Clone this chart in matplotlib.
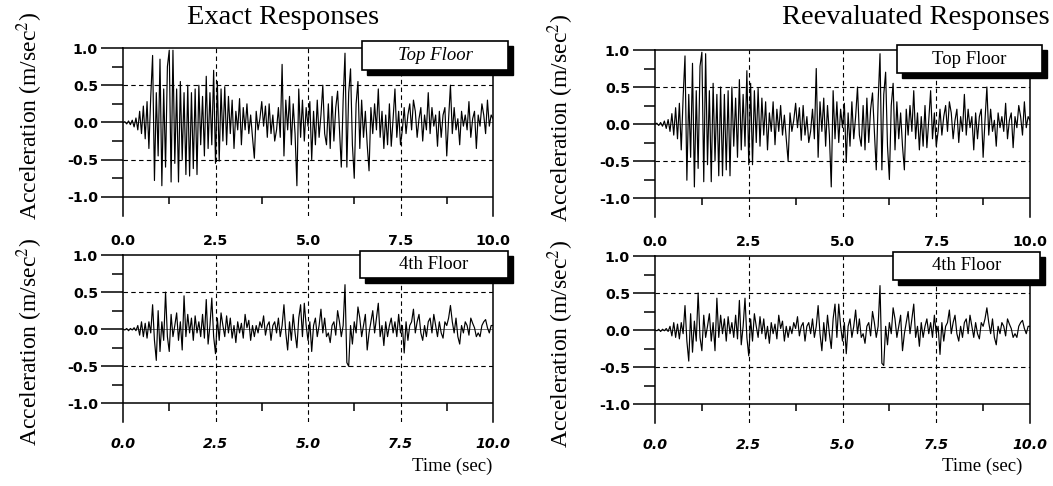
import numpy as np
import matplotlib.pyplot as plt
from matplotlib.patches import Rectangle

# acceleration samples (m/sec^2), every 0.05 sec from 0 to 10 sec
time_step = 0.05

top_exact = [
    0.00, 0.01, -0.02, 0.02, -0.03, 0.03, -0.06, 0.06, -0.10, 0.15, -0.15, 0.22, -0.22, 0.28, -0.35, 0.35, 0.90, -0.78, 0.40, -0.45,
    0.85, -0.85, 0.45, -0.60, 0.75, 0.97, -0.80, 0.97, -0.55, 0.45, -0.80, 0.55, -0.50, 0.40, -0.70, 0.50, -0.72, 0.40, -0.62, 0.45,
    -0.70, 0.50, -0.30, 0.35, -0.45, 0.62, -0.35, 0.40, -0.30, 0.70, -0.55, 0.55, -0.52, 0.45, -0.25, 0.48, -0.30, 0.35, -0.15, 0.30,
    -0.35, 0.15, -0.10, 0.32, -0.30, 0.20, -0.10, 0.25, -0.15, 0.10, -0.20, -0.48, 0.15, -0.10, 0.05, 0.28, -0.05, 0.22, -0.20, 0.25,
    -0.15, 0.10, -0.25, -0.10, 0.20, -0.20, 0.78, -0.45, 0.30, -0.10, 0.35, -0.30, 0.25, -0.15, -0.85, 0.45, -0.20, 0.30, -0.25, 0.20,
    -0.05, 0.28, -0.50, 0.15, -0.30, 0.30, -0.20, 0.10, 0.50, -0.15, -0.30, 0.25, -0.35, 0.35, -0.25, 0.20, 0.42, -0.10, -0.60, 0.30,
    0.93, -0.60, 0.40, 0.72, -0.30, -0.75, 0.25, 0.55, -0.35, 0.30, -0.20, 0.15, -0.30, -0.65, 0.20, -0.15, 0.25, -0.10, 0.45, -0.20,
    0.15, -0.35, 0.10, -0.30, 0.25, -0.32, 0.05, 0.45, -0.20, 0.15, -0.30, -0.10, 0.20, -0.15, 0.10, 0.25, -0.10, 0.30, 0.15, -0.20,
    0.05, 0.20, -0.25, 0.10, -0.10, 0.40, -0.15, 0.20, -0.05, 0.10, -0.32, 0.15, -0.20, 0.10, 0.20, -0.45, 0.05, 0.50, -0.15, 0.20,
    -0.10, 0.05, -0.30, 0.15, -0.05, 0.10, -0.10, 0.28, -0.20, 0.05, 0.15, -0.35, 0.10, -0.05, 0.25, 0.10, -0.15, 0.30, -0.05, 0.10,
    0.05,
]

top_reeval = [
    0.00, 0.01, -0.02, 0.02, -0.03, 0.04, -0.06, 0.06, -0.10, 0.14, -0.15, 0.22, -0.20, 0.28, -0.35, 0.36, 0.92, -0.76, 0.40, -0.45,
    0.82, -0.85, 0.45, -0.60, 0.78, 0.97, -0.78, 0.95, -0.55, 0.45, -0.78, 0.55, -0.50, 0.40, -0.70, 0.50, -0.70, 0.40, -0.62, 0.45,
    -0.70, 0.50, -0.30, 0.35, -0.45, 0.60, -0.35, 0.40, -0.30, 0.72, -0.55, 0.55, -0.55, 0.45, -0.25, 0.48, -0.30, 0.35, -0.15, 0.30,
    -0.35, 0.15, -0.10, 0.30, -0.28, 0.20, -0.10, 0.25, -0.15, 0.12, -0.20, -0.50, 0.15, -0.10, 0.05, 0.28, -0.05, 0.22, -0.22, 0.25,
    -0.15, 0.10, -0.25, -0.10, 0.20, -0.20, 0.75, -0.45, 0.30, -0.10, 0.35, -0.30, 0.25, -0.15, -0.85, 0.45, -0.20, 0.30, -0.25, 0.20,
    -0.05, 0.28, -0.52, 0.15, -0.30, 0.30, -0.20, 0.10, 0.50, -0.15, -0.30, 0.25, -0.35, 0.35, -0.25, 0.20, 0.42, -0.10, -0.62, 0.30,
    0.95, -0.62, 0.40, 0.70, -0.30, -0.75, 0.25, 0.55, -0.35, 0.30, -0.20, 0.15, -0.30, -0.62, 0.20, -0.15, 0.25, -0.10, 0.45, -0.20,
    0.15, -0.35, 0.10, -0.30, 0.25, -0.32, 0.05, 0.45, -0.20, 0.15, -0.30, -0.10, 0.20, -0.15, 0.10, 0.25, -0.10, 0.30, 0.15, -0.20,
    0.05, 0.20, -0.25, 0.10, -0.10, 0.40, -0.15, 0.20, -0.05, 0.10, -0.35, 0.15, -0.20, 0.10, 0.20, -0.45, 0.05, 0.50, -0.15, 0.20,
    -0.10, 0.05, -0.30, 0.15, -0.05, 0.10, -0.10, 0.28, -0.20, 0.05, 0.15, -0.32, 0.10, -0.05, 0.25, 0.10, -0.15, 0.30, -0.05, 0.10,
    0.05,
]

fourth_exact = [
    0.00, -0.01, 0.01, -0.02, 0.01, -0.01, 0.02, -0.02, 0.05, -0.08, 0.10, -0.10, 0.08, -0.12, 0.10, -0.05, 0.33, -0.15, -0.42, 0.25,
    -0.30, 0.10, -0.15, 0.50, -0.10, -0.30, 0.20, -0.10, 0.05, 0.22, -0.15, 0.10, -0.28, 0.45, -0.10, 0.20, -0.05, 0.15, -0.15, 0.18,
    -0.05, 0.10, -0.10, 0.20, -0.12, 0.40, -0.20, 0.05, 0.42, -0.10, -0.33, 0.15, -0.15, 0.22, 0.05, -0.10, 0.18, -0.05, 0.15, -0.12,
    0.05, -0.18, 0.10, -0.05, 0.08, -0.12, 0.20, 0.02, 0.12, -0.15, 0.05, -0.10, 0.05, -0.05, 0.10, 0.02, 0.18, -0.08, 0.05, 0.10,
    -0.15, 0.05, 0.10, -0.05, 0.15, -0.10, 0.05, 0.33, -0.05, -0.28, 0.10, -0.15, 0.20, -0.05, -0.25, 0.15, 0.33, -0.10, 0.35, 0.05,
    -0.15, 0.10, -0.30, 0.05, 0.15, -0.10, 0.05, 0.27, -0.05, 0.15, -0.10, -0.05, -0.18, 0.05, 0.10, -0.08, 0.25, 0.10, -0.10, 0.05,
    0.60, -0.45, -0.50, 0.05, -0.20, 0.10, -0.05, 0.30, 0.15, -0.10, 0.05, 0.20, -0.28, -0.05, 0.10, 0.25, -0.05, 0.15, 0.35, -0.10,
    0.05, -0.22, 0.10, -0.10, 0.05, 0.15, -0.05, 0.10, -0.10, 0.20, -0.05, 0.05, -0.32, 0.10, -0.15, 0.05, 0.10, 0.27, -0.05, 0.10,
    0.20, -0.05, -0.15, 0.05, -0.10, 0.10, 0.15, -0.05, 0.20, 0.05, -0.10, 0.10, -0.05, -0.12, 0.10, 0.05, 0.15, 0.32, 0.10, -0.05,
    0.15, -0.10, -0.20, 0.05, -0.05, 0.10, 0.05, -0.08, 0.15, 0.08, 0.02, -0.10, -0.05, -0.10, 0.05, 0.10, 0.13, 0.02, -0.05, 0.05,
    0.05,
]

fourth_reeval = [
    0.00, -0.01, 0.01, -0.02, 0.01, -0.01, 0.02, -0.02, 0.05, -0.08, 0.10, -0.10, 0.08, -0.12, 0.10, -0.05, 0.33, -0.15, -0.42, 0.22,
    -0.30, 0.12, -0.15, 0.50, -0.10, -0.28, 0.20, -0.10, 0.05, 0.22, -0.15, 0.10, -0.28, 0.43, -0.10, 0.20, -0.05, 0.15, -0.15, 0.18,
    -0.05, 0.10, -0.10, 0.20, -0.12, 0.40, -0.20, 0.05, 0.43, -0.10, -0.35, 0.15, -0.15, 0.22, 0.05, -0.10, 0.18, -0.05, 0.15, -0.12,
    0.05, -0.18, 0.10, -0.05, 0.08, -0.12, 0.20, 0.02, 0.12, -0.15, 0.05, -0.10, 0.05, -0.05, 0.10, 0.02, 0.18, -0.08, 0.05, 0.10,
    -0.15, 0.05, 0.10, -0.05, 0.15, -0.10, 0.05, 0.33, -0.05, -0.28, 0.10, -0.15, 0.20, -0.05, -0.25, 0.15, 0.35, -0.10, 0.35, 0.05,
    -0.15, 0.10, -0.32, 0.05, 0.15, -0.10, 0.05, 0.27, -0.05, 0.15, -0.10, -0.05, -0.18, 0.05, 0.10, -0.08, 0.25, 0.10, -0.10, 0.05,
    0.60, -0.45, -0.48, 0.05, -0.20, 0.10, -0.05, 0.30, 0.15, -0.10, 0.05, 0.20, -0.28, -0.05, 0.10, 0.25, -0.05, 0.15, 0.35, -0.10,
    0.05, -0.22, 0.10, -0.10, 0.05, 0.15, -0.05, 0.10, -0.10, 0.20, -0.05, 0.05, -0.33, 0.10, -0.15, 0.05, 0.10, 0.27, -0.05, 0.10,
    0.20, -0.05, -0.15, 0.05, -0.10, 0.10, 0.15, -0.05, 0.20, 0.05, -0.10, 0.10, -0.05, -0.12, 0.10, 0.05, 0.15, 0.30, 0.10, -0.05,
    0.15, -0.10, -0.20, 0.05, -0.05, 0.10, 0.05, -0.08, 0.15, 0.08, 0.02, -0.10, -0.05, -0.10, 0.05, 0.10, 0.13, 0.02, -0.05, 0.05,
    0.05,
]

x_major = [0.0, 2.5, 5.0, 7.5, 10.0]
x_minor = [1.25, 3.75, 6.25, 8.75]
y_major = [-1.0, -0.5, 0.0, 0.5, 1.0]
y_minor = [-0.75, -0.25, 0.25, 0.75]

W, H = 1053, 486
serif = 'Liberation Serif'
tick_font = dict(family='DejaVu Sans', weight='bold', size=10.2)


def px_axes(left, top, right, bottom):
    return [left / W, 1 - bottom / H, (right - left) / W, (bottom - top) / H]


def style_axes(ax, bottom_row):
    ax.set_xlim(0, 10)
    ax.set_ylim(-1.25, 1.0)
    ax.spines['bottom'].set_visible(False)
    for s in ('top', 'left', 'right'):
        ax.spines[s].set_linewidth(1.1)

    dash = (0, (4, 3))
    for y in (0.5, -0.5):
        ax.axhline(y, color='black', lw=0.8, ls=dash, zorder=1)
    ax.axhline(0.0, color='0.45', lw=0.7, zorder=1)
    ax.axhline(-1.0, color='black', lw=1.1, zorder=1)
    for x in (2.5, 5.0, 7.5):
        ax.axvline(x, color='black', lw=0.8, ls=dash, zorder=1)
    ax.vlines(x_minor, -1.1, -1.0, color='black', lw=1.1)

    ax.set_yticks(y_major)
    ax.set_yticklabels(['%.1f' % v for v in y_major], fontdict=tick_font)
    ax.set_yticks(y_minor, minor=True)
    ax.tick_params(axis='y', which='major', length=16, width=1.1, pad=2)
    ax.tick_params(axis='y', which='minor', length=8, width=1.1)

    ax.set_xticks(x_major)
    style = 'italic' if bottom_row else 'normal'
    ax.set_xticklabels(['%.1f' % v for v in x_major], fontdict=tick_font, fontstyle=style)
    ax.tick_params(axis='x', which='both', length=0, pad=13 if not bottom_row else 11)


def label_box(fig, left, top, right, bottom, text, italic):
    off = 5
    shadow = Rectangle(((left + off) / W, 1 - (bottom + off) / H), (right - left) / W, (bottom - top) / H,
                       transform=fig.transFigure, facecolor='black', edgecolor='black', zorder=5)
    box = Rectangle((left / W, 1 - bottom / H), (right - left) / W, (bottom - top) / H,
                    transform=fig.transFigure, facecolor='white', edgecolor='black', lw=1.2, zorder=6)
    fig.add_artist(shadow)
    fig.add_artist(box)
    fig.text((left + right) / 2 / W, 1 - (top + bottom) / 2 / H, text, ha='center', va='center',
             family=serif, size=13.5, style='italic' if italic else 'normal', zorder=7)


fig = plt.figure(figsize=(W / 100, H / 100), dpi=100)

panels = [
    (px_axes(123, 48, 493, 215.5), top_exact, False),
    (px_axes(655, 50, 1030, 216.5), top_reeval, False),
    (px_axes(123, 255, 493, 422), fourth_exact, True),
    (px_axes(655, 256, 1030, 422.5), fourth_reeval, True),
]

for rect, values, bottom_row in panels:
    ax = fig.add_axes(rect)
    t = np.linspace(0, 10, len(values))
    ax.plot(t, values, color='black', lw=0.85, zorder=3)
    style_axes(ax, bottom_row)

# titles
fig.text(283 / W, 1 - 17 / H, 'Exact Responses', ha='center', va='center', family=serif, size=20.5)
fig.text(1050 / W, 1 - 17 / H, 'Reevaluated Responses', ha='right', va='center', family=serif, size=20.5)

# y labels
ylab = 'Acceleration (m/sec$^{2}$)'
for xc, yc in [(30, 116), (561, 118), (30, 342), (561, 344)]:
    fig.text(xc / W, 1 - yc / H, ylab, rotation=90, ha='center', va='center', family=serif, size=17,
             math_fontfamily='stix')

# time labels
for xc in (452, 982):
    fig.text(xc / W, 1 - 466 / H, 'Time (sec)', ha='center', va='center', family=serif, size=13.5)

label_box(fig, 362, 41, 508, 70, 'Top Floor', True)
label_box(fig, 897, 45, 1042, 73, 'Top Floor', False)
label_box(fig, 360, 251, 508, 278, '4th Floor', False)
label_box(fig, 893, 252, 1040, 280, '4th Floor', False)

fig.savefig('out.png', dpi=100)
